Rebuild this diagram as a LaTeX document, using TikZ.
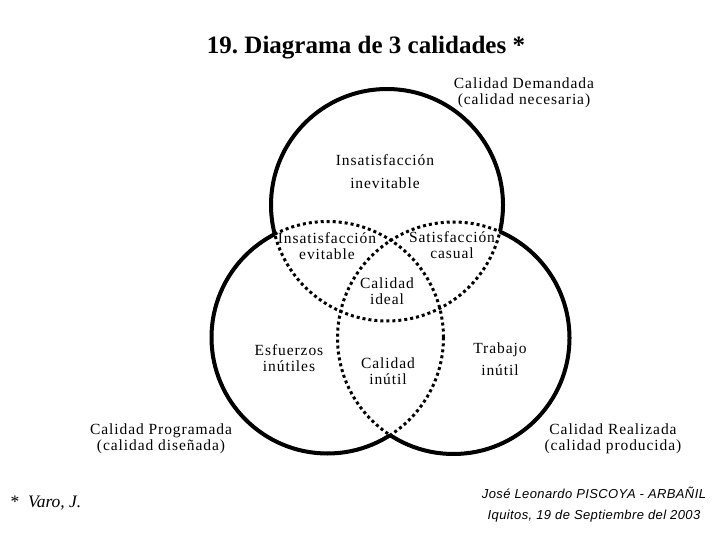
\documentclass[tikz,border=0pt]{standalone}
\usepackage{fontspec}
\setmainfont{Liberation Serif}
\newfontfamily\labelfont[LetterSpace=6]{Liberation Serif}
\newfontfamily\signfont[LetterSpace=3]{Liberation Sans}
\frenchspacing
\begin{document}
\begin{tikzpicture}[x=1pt, y=-1pt,
  lbl/.style={align=center, inner sep=0pt, font=\labelfont\fontsize{15.5}{16}\selectfont},
  sign/.style={align=center, inner sep=0pt, font=\signfont\itshape\fontsize{13}{16}\selectfont},
  solidring/.style={line width=4pt},
  dotring/.style={line width=3pt, dash pattern=on 3pt off 3pt}
]
\useasboundingbox (0,0) rectangle (720,540);
\coordinate (dem) at (387,205);
\coordinate (prog) at (327.5,337.5);
\coordinate (real) at (453.5,338);

% inner arcs, dotted
\foreach \c in {dem,prog,real}
  \draw[dotring] (\c) circle[radius=116pt];

% outer arcs, solid
\begin{scope}[even odd rule]
  \clip (0,0) rectangle (720,540) (prog) circle[radius=116pt];
  \clip (0,0) rectangle (720,540) (real) circle[radius=116pt];
  \draw[solidring] (dem) circle[radius=116pt];
\end{scope}
\begin{scope}[even odd rule]
  \clip (0,0) rectangle (720,540) (dem) circle[radius=116pt];
  \clip (0,0) rectangle (720,540) (real) circle[radius=116pt];
  \draw[solidring] (prog) circle[radius=116pt];
\end{scope}
\begin{scope}[even odd rule]
  \clip (0,0) rectangle (720,540) (dem) circle[radius=116pt];
  \clip (0,0) rectangle (720,540) (prog) circle[radius=116pt];
  \draw[solidring] (real) circle[radius=116pt];
\end{scope}

\node[font=\bfseries\fontsize{25}{28}\selectfont] (title) at (366,48) {19. Diagrama de 3 calidades *};

\node[lbl] (demanda) at (524,93) {Calidad Demandada\\(calidad necesaria)};
\node[lbl] (inevit) at (385,172) {Insatisfacción\\[7pt]inevitable};
\node[lbl] (evit) at (327,246) {Insatisfacción\\evitable};
\node[lbl] (casual) at (452,245) {Satisfacción\\casual};
\node[lbl] (ideal) at (387,291) {Calidad\\ideal};
\node[lbl] (esfuerzo) at (289,358) {Esfuerzos\\inútiles};
\node[lbl] (inutil) at (388,371) {Calidad\\inútil};
\node[lbl] (trabajo) at (500,359) {Trabajo\\[6pt]inútil};
\node[lbl] (programada) at (161,439) {Calidad Programada\\(calidad diseñada)};
\node[lbl] (realizada) at (613,439) {Calidad Realizada\\(calidad producida)};

\node[anchor=west, font=\fontsize{17.5}{20}\selectfont] (varo) at (7,503) {*\ \ \textit{Varo, J.}};
\node[sign] (autor) at (594,505) {José Leonardo PISCOYA - ARBAÑIL\\[5pt]Iquitos, 19 de Septiembre del 2003};
\end{tikzpicture}
\end{document}
